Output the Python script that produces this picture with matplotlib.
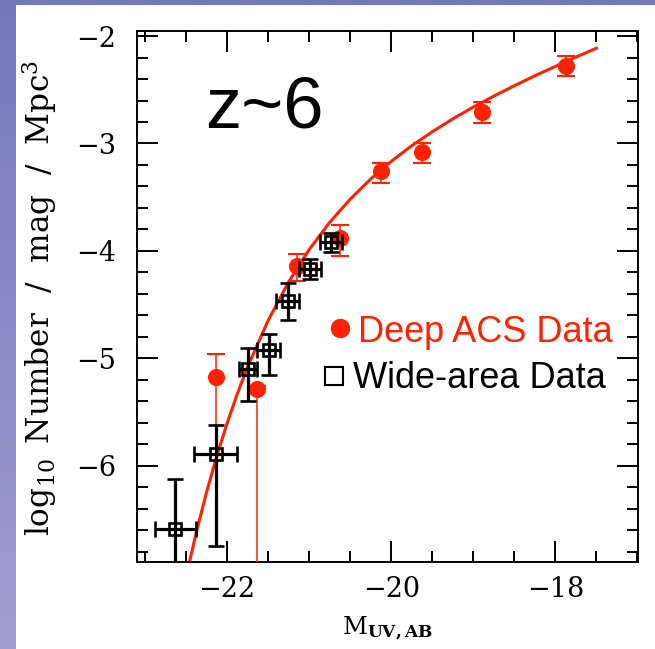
import matplotlib
matplotlib.use("Agg")
import matplotlib.pyplot as plt
import numpy as np
from matplotlib.patches import Rectangle
from matplotlib.ticker import MultipleLocator

plt.rcParams.update({"font.family": "DejaVu Serif", "mathtext.fontset": "dejavuserif"})

RED = "#ff2200"

# Deep ACS data (filled red circles)
deep_M = [-22.13, -21.63, -21.15, -20.62, -20.13, -19.63, -18.89, -17.87]
deep_phi = [-5.17, -5.29, -4.14, -3.88, -3.26, -3.08, -2.71, -2.28]
deep_lo = [0.73, 2.0, 0.14, 0.17, 0.11, 0.10, 0.097, 0.095]
deep_hi = [0.21, 0.03, 0.11, 0.12, 0.08, 0.08, 0.093, 0.097]

# wide-area data (open squares)
wide_M = [-22.63, -22.14, -21.75, -21.49, -21.26, -20.99, -20.73]
wide_phi = [-6.59, -5.89, -5.10, -4.92, -4.47, -4.17, -3.92]
wide_xerr = [0.25, 0.26, 0.11, 0.14, 0.14, 0.13, 0.135]
wide_lo = [1.0, 0.86, 0.30, 0.24, 0.17, 0.09, 0.09]
wide_hi = [0.47, 0.27, 0.20, 0.15, 0.17, 0.09, 0.09]

# fitted LF curve
fit_M = [-22.5, -22.375, -22.25, -22.125, -22.0, -21.875, -21.75, -21.5, -21.25,
         -21.0, -20.75, -20.5, -20.25, -20.0, -19.75, -19.5, -19.25, -19.0,
         -18.75, -18.5, -18.25, -18.0, -17.75, -17.5]
fit_phi = [-7.04, -6.625, -6.25, -5.913, -5.607, -5.332, -5.082, -4.649, -4.29,
           -3.989, -3.735, -3.519, -3.331, -3.167, -3.021, -2.891, -2.771, -2.661,
           -2.559, -2.462, -2.370, -2.282, -2.196, -2.113]

W, H = 655, 649
fig = plt.figure(figsize=(W / 100, H / 100), dpi=100)

# slide background: purple band top and left
bg = fig.add_axes([0, 0, 1, 1], zorder=-10)
grad = np.linspace(0, 1, 256)[:, None]
top_c = np.array([116, 120, 190]) / 255
bot_c = np.array([160, 158, 210]) / 255
img = top_c[None, None, :] * (1 - grad[:, :, None]) + bot_c[None, None, :] * grad[:, :, None]
bg.imshow(img, extent=[0, 1, 0, 1], aspect="auto")
bg.add_patch(Rectangle((16 / W, 0), 1, 1 - 5 / H, color="white", lw=0))
bg.set_xlim(0, 1); bg.set_ylim(0, 1); bg.axis("off")

ax = fig.add_axes([136.7 / W, 1 - 562.3 / H, 500.8 / W, 531.6 / H])

ax.plot(fit_M, fit_phi, color=RED, lw=2.2, zorder=2)
ax.errorbar(deep_M, deep_phi, yerr=[deep_lo, deep_hi], fmt="o", ms=11.3, color=RED,
            ecolor=RED, elinewidth=1.1, capsize=6.5, capthick=1.5, zorder=3)
ax.errorbar(wide_M, wide_phi, xerr=wide_xerr, yerr=[wide_lo, wide_hi], fmt="s", ms=9,
            mfc="none", mec="black", mew=1.9, ecolor="black", elinewidth=2.3,
            capsize=6, capthick=2.3, zorder=4)

ax.set_xlim(-23.1, -17.0)
ax.set_ylim(-6.9, -1.95)
ax.xaxis.set_major_locator(MultipleLocator(2))
ax.xaxis.set_minor_locator(MultipleLocator(0.5))
ax.yaxis.set_major_locator(MultipleLocator(1))
ax.yaxis.set_minor_locator(MultipleLocator(0.2))
ax.tick_params(which="both", direction="in", top=True, right=True, width=1.4)
ax.tick_params(which="major", length=15, labelsize=19.5)
ax.tick_params(which="minor", length=7.7)
ax.tick_params(axis="y", which="major", pad=15)
ax.tick_params(axis="x", which="major", pad=10)
for s in ax.spines.values():
    s.set_linewidth(1.4)

fig.text(40 / W, 1 - 297.5 / H, r"$\log_{10}$ Number  /  mag  /  Mpc$^3$", rotation=90,
         ha="center", va="center", fontsize=22.5)
fig.text(387 / W, 1 - 634 / H, r"M$_{\mathbf{UV,AB}}$", ha="center", va="baseline",
         fontsize=17.5)

# labels inside the panel
ax.text(0.136, 0.817, "z~6", transform=ax.transAxes, fontsize=52,
        family="Liberation Sans", va="baseline")
ax.plot([0.406], [0.440], "o", ms=13, color=RED, transform=ax.transAxes, clip_on=False)
ax.text(0.442, 0.415, "Deep ACS Data", transform=ax.transAxes, fontsize=26, color=RED,
        family="Liberation Sans", va="baseline")
ax.plot([0.394], [0.351], "s", ms=12.5, mfc="none", mec="black", mew=1.5,
        transform=ax.transAxes, clip_on=False)
ax.text(0.432, 0.328, "Wide-area Data", transform=ax.transAxes, fontsize=26,
        color="black", family="Liberation Sans", va="baseline")

fig.savefig("out.png", dpi=100)
